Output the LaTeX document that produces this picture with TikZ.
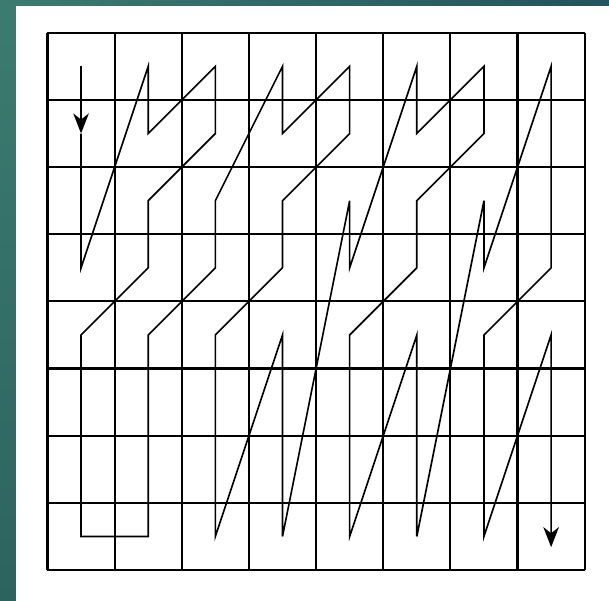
\documentclass[tikz,border=0pt]{standalone}
\definecolor{barteal}{RGB}{60, 123, 112}
\definecolor{barteallow}{RGB}{45, 99, 95}
\definecolor{bardark}{RGB}{34, 83, 94}
\usepackage{tikz}
\usetikzlibrary{arrows.meta}

\begin{document}
\begin{tikzpicture}[
    gridline/.style={black, line width=0.9pt},
    scanline/.style={black, line width=0.7pt, line join=miter},
    scantip/.style={-{Stealth[length=8.5pt, width=6.6pt, inset=2.6pt]}}
  ]
    % Frame and background
    \useasboundingbox (-0.707,-0.447) rectangle (8.362,8.488);
    \fill[white] (-0.707,-0.447) rectangle (8.362,8.488);
    \shade[left color=barteal, right color=bardark] (-0.707,8.399) rectangle (8.362,8.488);
    \shade[top color=barteal, bottom color=barteallow] (-0.707,-0.447) rectangle (-0.469,8.399);

    % 8x8 grid
    \draw[gridline] (0,0) grid (8,8);

    % Cell centres: (c<column>-<row>), rows counted from the top
    \foreach \c in {0,...,7}
        \foreach \r in {0,...,7}
            \coordinate (c\c-\r) at (\c+0.5, 7.5-\r);
    \coordinate (scanend) at (7.5,0.34);

    % Scan path, first step with arrow
    \draw[scanline, scantip] (c0-0) -- (c0-1);

    % Scan path, rest of the order
    \draw[scanline, scantip] (c0-1) -- (c0-2) -- (c0-3) -- (c1-0) -- (c1-1) -- (c2-0) -- (c2-1)
        -- (c1-2) -- (c1-3) -- (c0-4) -- (c0-5) -- (c0-6) -- (c0-7) -- (c1-7) -- (c1-6)
        -- (c1-5) -- (c1-4) -- (c2-3) -- (c2-2) -- (c3-0) -- (c3-1) -- (c4-0) -- (c4-1)
        -- (c3-2) -- (c3-3) -- (c2-4) -- (c2-5) -- (c2-6) -- (c2-7) -- (c3-4) -- (c3-5)
        -- (c3-6) -- (c3-7) -- (c4-2) -- (c4-3) -- (c5-0) -- (c5-1) -- (c6-0) -- (c6-1)
        -- (c5-2) -- (c5-3) -- (c4-4) -- (c4-5) -- (c4-6) -- (c4-7) -- (c5-4) -- (c5-5)
        -- (c5-6) -- (c5-7) -- (c6-2) -- (c6-3) -- (c7-0) -- (c7-1) -- (c7-2) -- (c7-3)
        -- (c6-4) -- (c6-5) -- (c6-6) -- (c6-7) -- (c7-4) -- (c7-5) -- (c7-6) -- (scanend);
\end{tikzpicture}
\end{document}
